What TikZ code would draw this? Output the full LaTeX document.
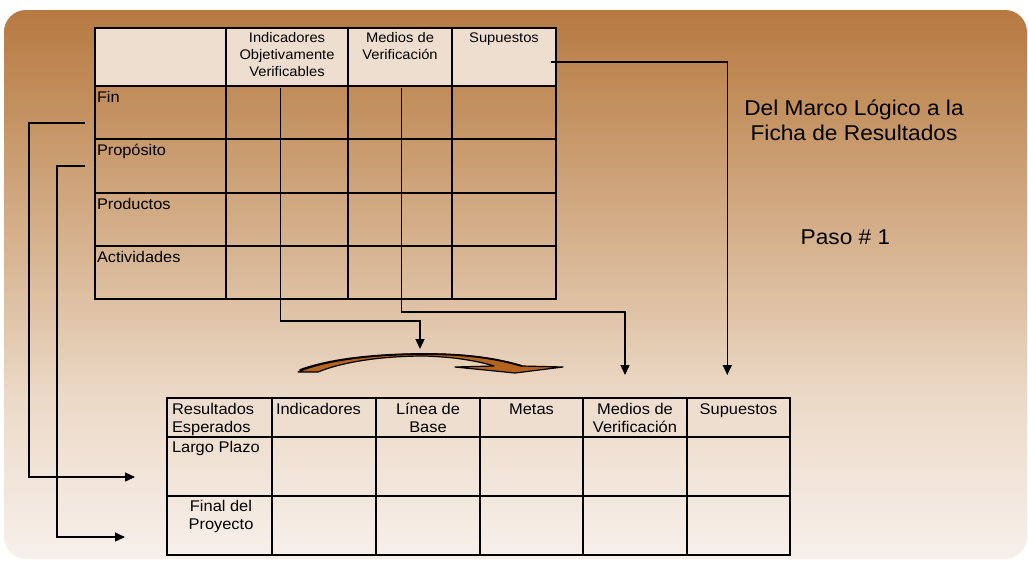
\documentclass[tikz,border=0pt]{standalone}
\usepackage{fontspec}
\setmainfont{Liberation Sans}[FakeStretch=1.06]
\usetikzlibrary{arrows.meta}
\definecolor{bgA}{RGB}{183,121,66}
\definecolor{bgB}{RGB}{194,143,93}
\definecolor{bgC}{RGB}{215,180,145}
\definecolor{bgD}{RGB}{236,218,200}
\definecolor{bgE}{RGB}{247,240,235}
\definecolor{hdrfill}{RGB}{237,222,208}
\definecolor{arrowbrown}{RGB}{180,100,30}
\pgfdeclareverticalshading{bgshade}{100bp}{color(0bp)=(bgE); color(25bp)=(bgE); color(39.5bp)=(bgD); color(53.1bp)=(bgC); color(66.8bp)=(bgB); color(75bp)=(bgA); color(100bp)=(bgA)}
\newcommand\tcellC[1]{\begin{tabular}[t]{@{}c@{}}#1\end{tabular}}
\newcommand\tcellL[1]{\begin{tabular}[t]{@{}l@{}}#1\end{tabular}}
\newcommand\fntHead{\fontsize{13.9}{17}\selectfont}
\newcommand\fntRow{\fontsize{15.4}{18}\selectfont}
\newcommand\fntBot{\fontsize{15.5}{18.5}\selectfont}
\newcommand\fntBig{\fontsize{21.4}{25}\selectfont}
\begin{document}
\begin{tikzpicture}[x=1pt,y=-1pt,
  grid/.style={draw=black, line width=2.5pt, inner sep=0pt, outer sep=0pt, anchor=north west},
  hcell/.style={grid, fill=hdrfill},
  conn/.style={draw=black, line width=1.4pt, -{Triangle[width=9pt,length=10pt]}},
  txt/.style={inner sep=0pt, outer sep=0pt, anchor=base},
  txtl/.style={inner sep=0pt, outer sep=0pt, anchor=base west}]
\useasboundingbox (0,0) rectangle (1028,560);
\fill[white] (0,0) rectangle (1028,560);
\path[shading=bgshade, rounded corners=22pt] (4,10) rectangle (1027,559);

% top table (Marco Logico)
\node[hcell, minimum width=131pt, minimum height=58pt] (t00) at (95,28) {};
\node[hcell, minimum width=122pt, minimum height=58pt] (t01) at (226,28) {};
\node[hcell, minimum width=104pt, minimum height=58pt] (t02) at (348,28) {};
\node[hcell, minimum width=104pt, minimum height=58pt] (t03) at (452,28) {};
\foreach \y/\h [count=\r] in {86/53,139/54,193/53,246/53}{
  \node[grid, minimum width=131pt, minimum height=\h pt] (t\r0) at (95,\y) {};
  \node[grid, minimum width=122pt, minimum height=\h pt] (t\r1) at (226,\y) {};
  \node[grid, minimum width=104pt, minimum height=\h pt] (t\r2) at (348,\y) {};
  \node[grid, minimum width=104pt, minimum height=\h pt] (t\r3) at (452,\y) {};
}
\node[txt, font=\fntHead] (hiov) at (287,42) {\tcellC{Indicadores\\Objetivamente\\Verificables}};
\node[txt, font=\fntHead] (hmv) at (400,42) {\tcellC{Medios de\\Verificación}};
\node[txt, font=\fntHead] (hsup) at (504,42) {\tcellC{Supuestos}};
\node[txtl, font=\fntRow] (lfin) at (97,102) {Fin};
\node[txtl, font=\fntRow] (lprop) at (97,155.5) {Propósito};
\node[txtl, font=\fntRow] (lprod) at (97,209) {Productos};
\node[txtl, font=\fntRow] (lact) at (97,262) {Actividades};

% title texts
\node[txt, font=\fntBig] (title) at (854,115) {\tcellC{Del Marco Lógico a la\\Ficha de Resultados}};
\node[txt, font=\fntBig] (paso) at (845.5,244) {Paso \# 1};

% bottom table (Ficha de Resultados)
\foreach \x/\w [count=\c] in {167/105,272/104,376/104,480/103,583/104,687/103}{
  \node[hcell, minimum width=\w pt, minimum height=39pt] (b0\c) at (\x,398) {};
  \node[grid, minimum width=\w pt, minimum height=59pt] (b1\c) at (\x,437) {};
  \node[grid, minimum width=\w pt, minimum height=59pt] (b2\c) at (\x,496) {};
}
\node[txtl, font=\fntBot] (bres) at (172,414) {\tcellL{Resultados\\Esperados}};
\node[txtl, font=\fntBot] (bind) at (276,414) {Indicadores};
\node[txt, font=\fntBot] (blin) at (428,414) {\tcellC{Línea de\\Base}};
\node[txt, font=\fntBot] (bmet) at (531.5,414) {Metas};
\node[txt, font=\fntBot] (bmv) at (635,414) {\tcellC{Medios de\\Verificación}};
\node[txt, font=\fntBot] (bsup) at (738.5,414) {Supuestos};
\node[txtl, font=\fntBot] (blargo) at (172,452) {Largo Plazo};
\node[txt, font=\fntBot] (bfinal) at (221,511) {\tcellC{Final del\\Proyecto}};

% connector end points
\coordinate (finO) at (85,123);
\coordinate (finT) at (135,477);
\coordinate (propO) at (85,166);
\coordinate (propT) at (125,537);
\coordinate (iovO) at (280.3,88);
\coordinate (iovT) at (420,349);
\coordinate (mvO) at (401.7,88);
\coordinate (mvT) at (625,375);
\coordinate (supO) at (550.7,62);
\coordinate (supT) at (727.3,375);

\draw[conn] (finO) -- (29,123) |- (finT);
\draw[conn] (propO) -- (57,166) |- (propT);
\draw[conn] (iovO) -- (280.3,321) -| (iovT);
\draw[conn] (mvO) -- (401.7,312) -| (mvT);
\draw[conn] (supO) -| (supT);

% curved block arrow
\filldraw[fill=arrowbrown, draw=black, line width=1.2pt, line join=round]
  (298,372) -- (318,372) .. controls (345,361) and (385,356) .. (425,356)
  .. controls (455,357) and (478,361) .. (494,366) -- (455,367) -- (515,373) -- (563,367) -- (522,366)
  .. controls (495,358) and (465,354) .. (425,354)
  .. controls (375,354) and (325,360) .. (298,372) -- cycle;
\draw[line width=1.8pt, line cap=round] (300,370) .. controls (330,359) and (375,354) .. (425,354)
  .. controls (465,354) and (495,358) .. (522,366);
\end{tikzpicture}
\end{document}
